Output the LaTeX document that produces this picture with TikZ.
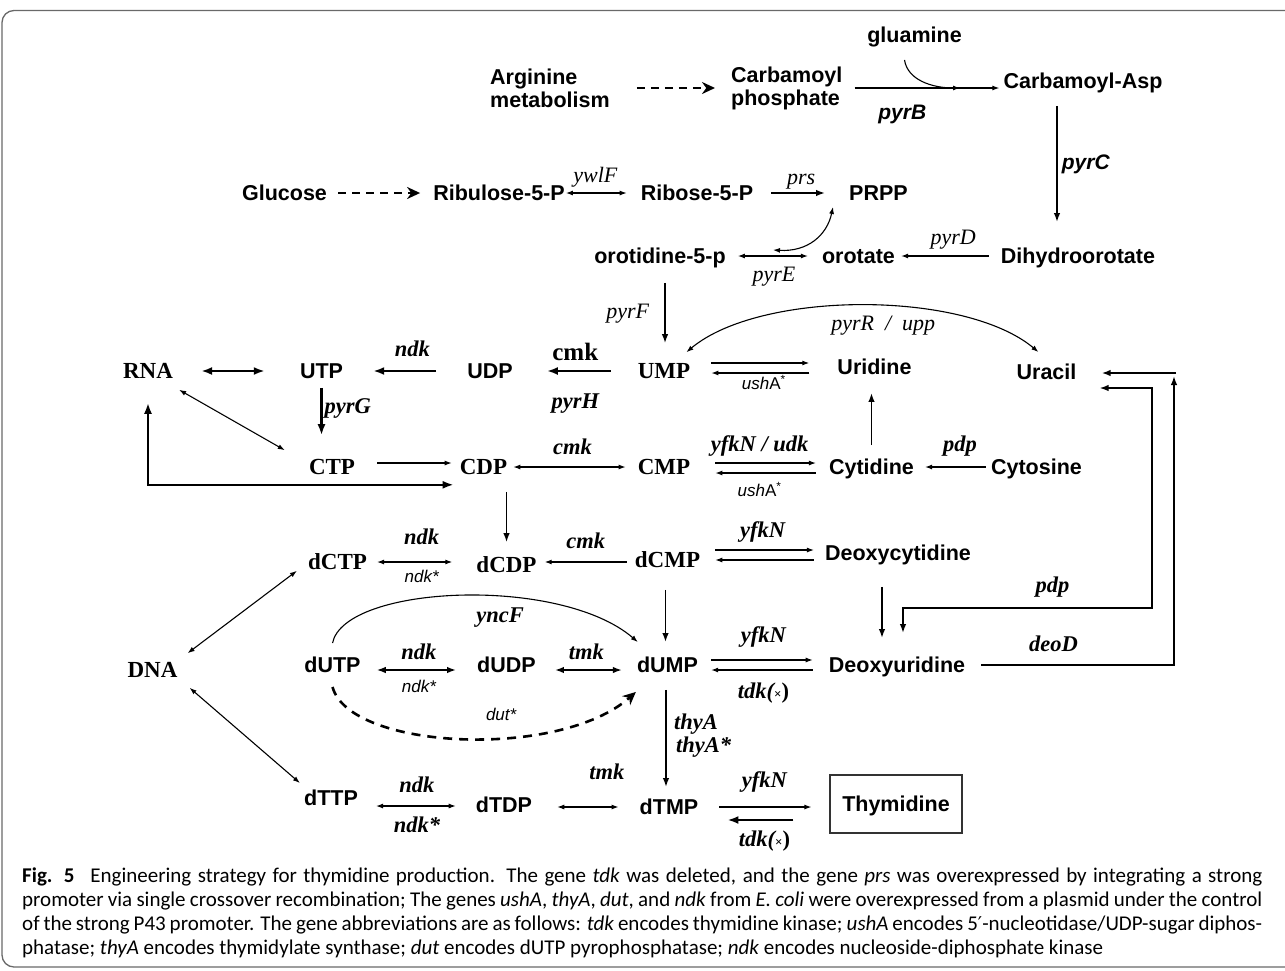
\documentclass[tikz,border=0pt]{standalone}
\usepackage{fontspec}
\usepackage{xcolor}
\usepackage{tikz}
\usetikzlibrary{arrows.meta,positioning}
\newfontfamily\arialfont{Liberation Sans}
\newfontfamily\timesfont{Liberation Serif}
\newfontfamily\capfont{Carlito}
\newfontfamily\primefont{DejaVu Sans}
\definecolor{framegray}{RGB}{105,105,105}

\begin{document}
\begin{tikzpicture}[
    x=1pt, y=-1pt,
    compound/.style={
        font=\arialfont\bfseries\fontsize{21.5}{24}\selectfont,
        inner sep=1pt,
        text height=15.5pt,
        text depth=0pt
    },
    twoline/.style={
        font=\arialfont\bfseries\fontsize{21.5}{23}\selectfont,
        inner sep=1pt,
        align=left
    },
    nucleo/.style={
        font=\timesfont\bfseries\fontsize{23}{26}\selectfont,
        inner sep=1pt,
        text height=15.2pt,
        text depth=0pt
    },
    gene/.style={
        font=\timesfont\itshape\fontsize{22}{24}\selectfont,
        inner sep=2pt,
        text height=15pt,
        text depth=5pt
    },
    bgene/.style={
        font=\timesfont\bfseries\itshape\fontsize{22.5}{24}\selectfont,
        inner sep=2pt,
        text height=15pt,
        text depth=5pt
    },
    sgene/.style={
        font=\arialfont\itshape\fontsize{17}{20}\selectfont,
        inner sep=1.5pt,
        text height=12.5pt,
        text depth=3.5pt
    },
    bsgene/.style={
        font=\arialfont\bfseries\itshape\fontsize{21}{24}\selectfont,
        inner sep=2pt,
        text height=15.5pt,
        text depth=4.5pt
    },
    cmklab/.style={
        font=\timesfont\bfseries\fontsize{25}{28}\selectfont,
        inner sep=2pt,
        text height=17pt,
        text depth=0pt
    },
    captext/.style={
        font=\capfont\fontsize{21}{24}\selectfont,
        inner sep=0pt
    },
    tarr/.style={-{Latex[length=7pt,width=5pt]}, line width=1.1pt},
    dtarr/.style={{Latex[length=7pt,width=5pt]}-{Latex[length=7pt,width=5pt]}, line width=1.1pt},
    arr/.style={-{Latex[length=9pt,width=6.5pt]}, line width=1.7pt},
    darr/.style={{Latex[length=9pt,width=6.5pt]}-{Latex[length=9pt,width=6.5pt]}, line width=1.6pt},
    karr/.style={-{Latex[length=11pt,width=8pt]}, line width=2.4pt},
    kdarr/.style={{Latex[length=11pt,width=8pt]}-{Latex[length=11pt,width=8pt]}, line width=2.4pt},
    dasharr/.style={-{Stealth[length=13pt,width=12pt]}, line width=2.6pt, dash pattern=on 8pt off 6pt}
]
\useasboundingbox (0,0) rectangle (1285,970);
\draw[framegray, line width=1.3pt, rounded corners=12pt] (1285,10.5) -- (2,10.5) -- (2,967) -- (1285,967);

\node[twoline, anchor=west] (arg) at (489,88) {Arginine\\metabolism};
\node[twoline, anchor=west] (cpho) at (730,88) {Carbamoyl\\phosphate};
\node[compound] (glu) at (914.5,35) {gluamine};
\node[compound] (casp) at (1083,81) {Carbamoyl-Asp};
\node[compound] (glc) at (284.5,193) {Glucose};
\node[compound] (rul) at (499,193) {Ribulose-5-P};
\node[compound] (rib) at (697,193) {Ribose-5-P};
\node[compound] (prpp) at (878.5,193) {PRPP};
\node[compound] (orot5p) at (660,256) {orotidine-5-p};
\node[compound] (orota) at (858.5,256) {orotate};
\node[compound] (dho) at (1078,256) {Dihydroorotate};
\node[nucleo] (RNA) at (148,371) {RNA};
\node[compound] (UTP) at (321.5,371) {UTP};
\node[compound] (UDP) at (490,371) {UDP};
\node[nucleo] (UMP) at (664,371) {UMP};
\node[compound] (Uridine) at (874.5,367) {Uridine};
\node[compound] (Uracil) at (1046.5,372) {Uracil};
\node[nucleo] (CTP) at (332,467) {CTP};
\node[nucleo] (CDP) at (483.5,467) {CDP};
\node[nucleo] (CMP) at (664,467) {CMP};
\node[compound] (Cytidine) at (871.5,467) {Cytidine};
\node[compound] (Cytosine) at (1036.5,467) {Cytosine};
\node[nucleo] (dCTP) at (337.5,562) {dCTP};
\node[nucleo] (dCDP) at (506.5,565) {dCDP};
\node[nucleo] (dCMP) at (667.5,560) {dCMP};
\node[compound] (dCyd) at (898,553) {Deoxycytidine};
\node[nucleo] (DNA) at (152.5,670) {DNA};
\node[compound] (dUTP) at (332.5,665) {dUTP};
\node[compound] (dUDP) at (506.5,665) {dUDP};
\node[compound] (dUMP) at (667.5,665) {dUMP};
\node[compound] (dUrd) at (897,665) {Deoxyuridine};
\node[compound] (dTTP) at (331,798) {dTTP};
\node[compound] (dTDP) at (504,805) {dTDP};
\node[compound] (dTMP) at (669,807) {dTMP};
\node[compound, draw=black!80, line width=1.2pt, minimum width=132pt, minimum height=58pt] (Thd) at (896,804) {Thymidine};

\coordinate (gjoin) at (960,88);
\coordinate (ojoin) at (773,250);
\coordinate (deoDtop) at (1174,376);
\coordinate (pdpbend) at (1152,608);

\draw[dasharr, shorten <=26pt, shorten >=15pt] (arg.east) -- (cpho.west);
\draw[tarr, shorten <=11pt, shorten >=3pt] (cpho.east) -- (cpho.east -| casp.west) node[bsgene, pos=0.37, below=13pt] {pyrB};
\draw[tarr] ([xshift=-10pt,yshift=-16pt]glu.south) .. controls +(3,20) and +(-28,0) .. (gjoin);
\draw[arr, shorten <=16pt, shorten >=25pt] ([xshift=-26pt]casp.south) -- ([xshift=-26pt]casp.south |- dho.north) node[bsgene, pos=0.47, right=2pt] {pyrC};

\draw[dasharr, shorten <=10pt, shorten >=12pt] (glc.east) -- (rul.west);
\draw[dtarr, shorten >=13pt] (rul.east) -- (rib.west) node[gene, pos=0.4, above=3pt] {ywlF};
\draw[arr, shorten <=17pt, shorten >=23pt] (rib.east) -- (prpp.west) node[gene, midway, above=1pt] {prs};
\draw[dtarr] (ojoin) .. controls +(35,2) and +(-6,28) .. ([xshift=-15pt,yshift=-5pt]prpp.south west);
\draw[dtarr, shorten <=11pt, shorten >=13pt] (orot5p.east) -- (orota.west) node[gene, midway, below=8pt] {pyrE};
\draw[tarr, shorten <=11pt, shorten >=5pt] (dho.west) -- (orota.east) node[gene, pos=0.45, above=4pt] {pyrD};
\draw[arr, shorten <=18pt, shorten >=19pt] ([xshift=5pt]orot5p.south) -- ([xshift=5pt]orot5p.south |- UMP.north) node[gene, midway, left=13pt] {pyrF};

\draw[dtarr] ([xshift=-5pt,yshift=10pt]UMP.north east) .. controls +(74,-62) and +(-74,-62) .. ([xshift=23pt,yshift=11pt]Uracil.north west) node[gene, pos=0.55, below=7pt] {pyrR\enspace/\enspace upp};
\draw[karr, shorten <=26pt, shorten >=33pt] (UMP.west) -- (UDP.east) node[cmklab, midway, above=7pt] {cmk} node[bgene, midway, below=19pt] {pyrH};
\draw[karr, shorten <=30pt, shorten >=29pt] (UDP.west) -- (UTP.east) node[bgene, pos=0.44, above=6pt] {ndk};
\draw[kdarr, shorten <=27pt, shorten >=34pt] (RNA.east) -- (UTP.west);
\draw[karr, shorten <=8pt, shorten >=23pt] (UTP.south) -- (UTP.south |- CTP.north) node[bgene, pos=0.37, right] {pyrG};
\draw[dtarr] ([xshift=5pt,yshift=-10pt]RNA.south east) -- ([xshift=-23pt,yshift=8pt]CTP.north west);
\draw[tarr, shorten <=21pt, shorten >=7pt] ([yshift=4pt]CTP.east) -- ([yshift=4pt]CTP.east -| CDP.west);
\draw[kdarr, shorten <=23pt, shorten >=5pt] (RNA.south) |- ([yshift=-9pt]CDP.south west);
\draw[dtarr, shorten <=5pt, shorten >=11pt] (CDP.east) -- (CMP.west) node[bgene, midway, above=5pt] {cmk};
\draw[arr, shorten <=16pt, shorten >=14pt] (dCDP.north |- CDP.south) -- (dCDP.north);

\draw[tarr, shorten <=20pt, shorten >=27pt] ([yshift=8pt]UMP.east) -- ([yshift=8pt]UMP.east -| Uridine.west);
\draw[tarr, shorten <=27pt, shorten >=20pt] ([yshift=-2pt]UMP.east -| Uridine.west) -- ([yshift=-2pt]UMP.east) node[sgene, midway, below=2pt] {ush\upshape A\textsuperscript{*}};
\draw[arr, shorten <=13pt, shorten >=17pt] (Cytidine.north) -- (Cytidine.north |- Uridine.south);
\draw[tarr, shorten <=24pt, shorten >=12pt] ([yshift=4pt]CMP.east) -- ([yshift=4pt]CMP.east -| Cytidine.west) node[bgene, midway, above=4pt] {yfkN / udk};
\draw[tarr, shorten <=12pt, shorten >=24pt] ([yshift=-6pt]CMP.east -| Cytidine.west) -- ([yshift=-6pt]CMP.east) node[sgene, midway, below=9pt] {ush\upshape A\textsuperscript{*}};
\draw[tarr, shorten <=4pt, shorten >=10pt] (Cytosine.west) -- (Cytidine.east) node[bgene, pos=0.4, above=8pt] {pdp};

\draw[dtarr, shorten <=9pt, shorten >=23pt] (dCTP.east) -- (dCTP.east -| dCDP.west) node[bgene, midway, above=10pt] {ndk} node[sgene, midway, below=6pt] {ndk*};
\draw[tarr, shorten <=7pt, shorten >=7pt] ([yshift=-2pt]dCMP.west) -- ([yshift=-2pt]dCMP.west -| dCDP.east) node[bgene, midway, above=6pt] {cmk};
\draw[tarr, shorten <=14pt, shorten >=10pt] ([yshift=10pt]dCMP.east) -- ([yshift=10pt]dCMP.east -| dCyd.west) node[bgene, midway, above=5pt] {yfkN};
\draw[tarr, shorten <=10pt, shorten >=14pt] (dCMP.east -| dCyd.west) -- (dCMP.east);
\draw[arr, shorten <=21pt, shorten >=14pt] ([xshift=-2pt]dCMP.south) -- ([xshift=-2pt]dCMP.south |- dUMP.north);
\draw[arr, shorten <=25pt, shorten >=18pt] ([xshift=-16pt]dCyd.south) -- ([xshift=-16pt]dCyd.south |- dUrd.north);
\draw[dtarr] ([xshift=9pt,yshift=8pt]DNA.north east) -- ([xshift=-10pt]dCTP.south west);
\draw[dtarr] ([xshift=11pt,yshift=-9pt]DNA.south east) -- ([xshift=-3pt,yshift=6pt]dTTP.north west);

\draw[tarr] ([yshift=13pt]dUTP.north) .. controls +(12,-58) and +(-78,-67) .. ([xshift=2pt,yshift=14pt]dUMP.north west) node[bgene, pos=0.6, below=8pt] {yncF};
\draw[darr, shorten <=15pt, shorten >=20pt] ([yshift=-5pt]dUTP.east) -- ([yshift=-5pt]dUTP.east -| dUDP.west) node[bgene, midway, above=3pt] {ndk} node[sgene, midway, below=8pt] {ndk*};
\draw[darr, shorten <=18pt, shorten >=14pt] ([yshift=-5pt]dUDP.east) -- ([yshift=-5pt]dUDP.east -| dUMP.west) node[bgene, midway, above=3pt] {tmk};
\draw[-{Stealth[length=13pt,width=12pt]}, line width=2.6pt, dash pattern=on 9pt off 7pt] ([yshift=-13pt]dUTP.south) .. controls +(17,63) and +(-76,68) .. ([yshift=-18pt]dUMP.south west) node[sgene, pos=0.6, above=11pt] {dut*};
\draw[tarr, shorten <=12pt, shorten >=15pt] ([yshift=5pt]dUMP.east) -- ([yshift=5pt]dUMP.east -| dUrd.west) node[bgene, midway, above=10pt] {yfkN};
\draw[tarr, shorten <=15pt, shorten >=12pt] ([yshift=-5pt]dUMP.east -| dUrd.west) -- ([yshift=-5pt]dUMP.east) node[bgene, midway, below=11pt] {tdk(\upshape{\fontsize{13}{13}\selectfont ×})};
\draw[arr, shorten <=15pt] (dUrd.east) -| (deoDtop) node[bgene, pos=0.21, above=6pt] {deoD};
\draw[arr, shorten >=22pt] ([xshift=2pt,yshift=3pt]deoDtop) -- ([xshift=2pt,yshift=3pt]deoDtop -| Uracil.east);
\draw[darr, shorten >=23pt] ([xshift=22pt,yshift=-16pt]Uracil.east) -| (pdpbend) -| node[bgene, pos=0.2, above=8pt] {pdp} ([xshift=6pt]dUrd.north);

\draw[arr, shorten <=16pt, shorten >=11pt] ([xshift=-1.5pt]dUMP.south) -- ([xshift=-1.5pt]dUMP.south |- dTMP.north) node[font=\timesfont\bfseries\itshape\fontsize{22.5}{23}\selectfont, align=left, midway, right=4pt] {thyA\\\hspace{2pt}thyA*};
\draw[dtarr, shorten <=17pt, shorten >=19pt] ([yshift=-8pt]dTTP.east) -- ([yshift=-8pt]dTTP.east -| dTDP.west) node[bgene, midway, above=6pt] {ndk} node[bgene, midway, below=9pt] {ndk*};
\draw[dtarr, shorten <=24pt, shorten >=20pt] ([yshift=-2pt]dTDP.east) -- ([yshift=-2pt]dTDP.east -| dTMP.west) node[bgene, pos=0.7, above=20pt] {tmk};
\draw[tarr, shorten <=20pt, shorten >=18pt] (dTMP.east) -- (dTMP.east -| Thd.west) node[bgene, midway, above=12pt] {yfkN};
\draw[karr, shorten <=36pt, shorten >=28pt] ([yshift=-16pt]Thd.west) -- ([yshift=-16pt]Thd.west -| dTMP.east) node[bgene, midway, below=8pt] {tdk(\upshape{\fontsize{13}{13}\selectfont ×})};

\node[captext, anchor=base west] (cap1) at (22,882) {\makebox[1240pt][s]{\textbf{Fig. 5}\hspace{0.45em} Engineering strategy for thymidine production. The gene \textit{tdk} was deleted, and the gene \textit{prs} was overexpressed by integrating a strong}};
\node[captext, anchor=base west] (cap2) at (22,906) {\makebox[1240pt][s]{promoter via single crossover recombination; The genes \textit{ushA}, \textit{thyA}, \textit{dut}, and \textit{ndk} from \textit{E. coli} were overexpressed from a plasmid under the control}};
\node[captext, anchor=base west] (cap3) at (22,930) {\makebox[1240pt][s]{of the strong P43 promoter. The gene abbreviations are as follows: \textit{tdk} encodes thymidine kinase; \textit{ushA} encodes 5{\primefont\fontsize{19}{24}\selectfont ′}-nucleotidase/UDP-sugar diphos-}};
\node[captext, anchor=base west] (cap4) at (22,954) {phatase; \textit{thyA} encodes thymidylate synthase; \textit{dut} encodes dUTP pyrophosphatase; \textit{ndk} encodes nucleoside-diphosphate kinase};
\end{tikzpicture}
\end{document}
